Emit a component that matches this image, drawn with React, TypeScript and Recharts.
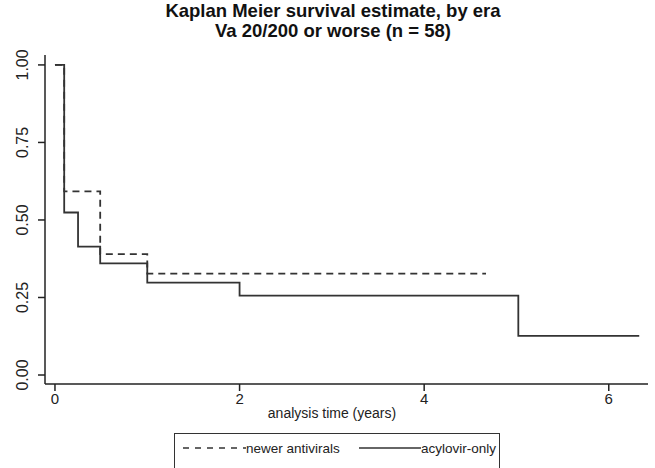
import React from "react";
import { LineChart, Line, XAxis, YAxis } from "recharts";

// Kaplan-Meier steps
const acyTimes = [0, 0.1, 0.25, 0.49, 1.0, 2.0, 5.02, 6.33];
const acySurv = [1, 0.524, 0.414, 0.36, 0.298, 0.256, 0.126, 0.126];
const newTimes = [0, 0.1, 0.49, 1.0, 4.67];
const newSurv = [1, 0.592, 0.39, 0.327, 0.327];

const xTicks = [0, 2, 4, 6];
const yTicks = [0, 0.25, 0.5, 0.75, 1];

const acyData = acyTimes.map((t, i) => ({ t, s: acySurv[i] }));
const newData = newTimes.map((t, i) => ({ t, s: newSurv[i] }));

const FONT = "'Liberation Sans', Arial, Helvetica, sans-serif";
const INK = "#222";

function YTick({ y, payload }: { y?: number; payload?: { value: number } }) {
  return (
    <text
      x={28}
      y={y}
      transform={`rotate(-90, 28, ${y})`}
      textAnchor="middle"
      fontSize={16}
      fontFamily={FONT}
      fill={INK}
    >
      {payload?.value.toFixed(2)}
    </text>
  );
}

export default function App() {
  return (
    <div style={{ position: "absolute", left: 0, top: 0, width: 655, height: 468, background: "#fff", fontFamily: FONT }}>
      <svg width={655} height={60} style={{ position: "absolute", left: 0, top: 0 }}>
        <text x={333} y={17} textAnchor="middle" fontSize={18.5} fontWeight={700} fontFamily={FONT} fill="#111">
          Kaplan Meier survival estimate, by era
        </text>
        <text x={333} y={37} textAnchor="middle" fontSize={18.5} fontWeight={700} fontFamily={FONT} fill="#111">
          Va 20/200 or worse (n = 58)
        </text>
      </svg>
      <LineChart width={655} height={468} margin={{ top: 55, right: 7, left: 7, bottom: 54 }}>
        <XAxis
          dataKey="t"
          type="number"
          domain={[-0.108, 6.425]}
          allowDataOverflow
          ticks={xTicks}
          tickSize={7}
          tickMargin={2}
          height={30}
          stroke={INK}
          strokeWidth={1.5}
          tick={{ fontSize: 15, fill: INK, fontFamily: FONT }}
        />
        <YAxis
          dataKey="s"
          type="number"
          domain={[-0.029, 1.032]}
          allowDataOverflow
          ticks={yTicks}
          tickSize={7}
          width={38}
          stroke={INK}
          strokeWidth={1.5}
          tick={<YTick />}
        />
        <Line
          data={newData}
          dataKey="s"
          type="stepAfter"
          stroke="#333"
          strokeWidth={1.8}
          strokeDasharray="7 5"
          dot={false}
          isAnimationActive={false}
        />
        <Line
          data={acyData}
          dataKey="s"
          type="stepAfter"
          stroke="#333"
          strokeWidth={1.8}
          dot={false}
          isAnimationActive={false}
        />
      </LineChart>
      <svg width={655} height={30} style={{ position: "absolute", left: 0, top: 400 }}>
        <text x={332} y={18} textAnchor="middle" fontSize={14} fontFamily={FONT} fill={INK}>
          analysis time (years)
        </text>
      </svg>
      <div
        style={{
          position: "absolute",
          left: 174,
          top: 433,
          width: 326,
          height: 40,
          border: "1.5px solid #333",
          boxSizing: "border-box",
        }}
      >
        <svg width={326} height={28} style={{ position: "absolute", left: 0, top: 0 }}>
          <line x1={8} x2={71} y1={14} y2={14} stroke="#333" strokeWidth={1.5} strokeDasharray="6 6" />
          <text x={71} y={18.5} fontSize={13.5} fontFamily={FONT} fill={INK}>newer antivirals</text>
          <line x1={184} x2={246} y1={14} y2={14} stroke="#333" strokeWidth={1.5} />
          <text x={246} y={18.5} fontSize={13.5} fontFamily={FONT} fill={INK}>acylovir-only</text>
        </svg>
      </div>
    </div>
  );
}
